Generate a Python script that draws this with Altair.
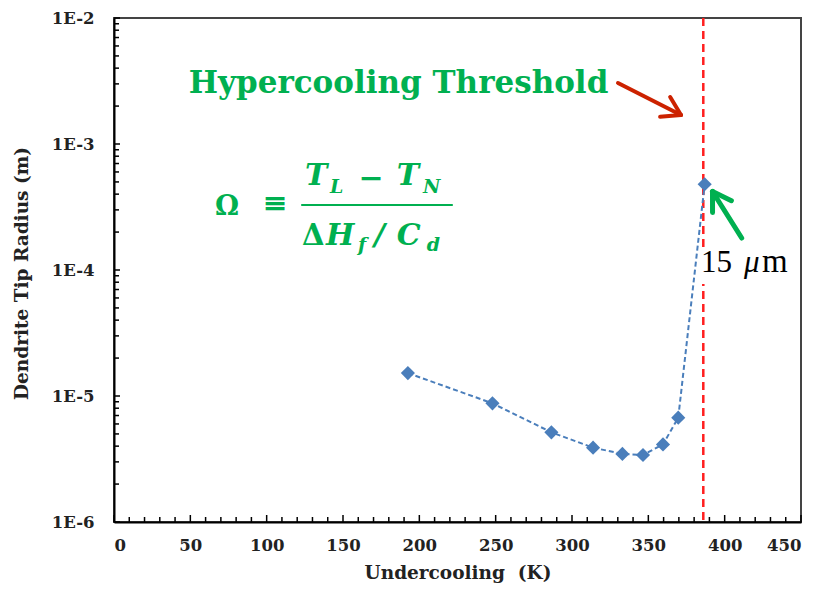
import math
import altair as alt
import pandas as pd

# ---- data ----
undercooling = [192.5, 247.9, 286.5, 313.8, 333.0, 346.5, 359.6, 369.6, 386.9]
tip_radius = [1.52e-5, 8.75e-6, 5.15e-6, 3.89e-6, 3.47e-6, 3.40e-6, 4.13e-6, 6.73e-6, 4.79e-4]
threshold = [386.0]
x_tick_labels = [0, 50, 100, 150, 200, 250, 300, 350, 400, 450]
y_tick_labels = [1e-6, 1e-5, 1e-4, 1e-3, 1e-2]

# minor/major tick positions (axis structure)
x_minor = [v for v in range(0, 451, 10) if v % 50 != 0]
y_minor = [m * 10.0 ** e for e in range(-6, -2) for m in range(2, 10)]

W, H = 687, 504
FONT = "DejaVu Serif"
TFONT = "Liberation Serif"
GREEN = "#00B050"
BLUE = "#4A7EBB"

xscale = alt.Scale(domain=[0, 450], nice=False, zero=False)
yscale = alt.Scale(type="log", domain=[1e-6, 1e-2], nice=False)

x_axis = alt.Axis(values=x_tick_labels, title="Undercooling\u00a0\u00a0(K)", ticks=False,
                  labelPadding=15, grid=False, titleX=W / 2, titleY=56,
                  titleBaseline="alphabetic")
y_axis = alt.Axis(values=y_tick_labels, title="Dendrite Tip Radius (m)", ticks=False,
                  labelPadding=20, grid=False,
                  labelExpr="'1E-' + format(-log(datum.value)/LN10, '.0f')",
                  titleX=-93, titleY=H / 2 + 3, titleBaseline="middle")

df = pd.DataFrame({"x": undercooling, "y": tip_radius})

line = alt.Chart(df).mark_line(color=BLUE, strokeWidth=2, strokeDash=[5, 3]).encode(
    x=alt.X("x:Q", scale=xscale, axis=x_axis),
    y=alt.Y("y:Q", scale=yscale, axis=y_axis),
)
points = alt.Chart(df).mark_point(shape="diamond", filled=True, size=200, color=BLUE, opacity=1).encode(
    x=alt.X("x:Q", scale=xscale, axis=x_axis),
    y=alt.Y("y:Q", scale=yscale, axis=y_axis),
)
thr = alt.Chart(pd.DataFrame({"x": threshold})).mark_rule(
    color="#FF1F1F", strokeWidth=2.5, strokeDash=[8, 5]).encode(
    x=alt.X("x:Q", scale=xscale, axis=x_axis),
)

# inward ticks
xt_minor = alt.Chart(pd.DataFrame({"v": x_minor})).mark_rule(color="black", strokeWidth=1.5).encode(
    x=alt.X("v:Q", scale=xscale, axis=x_axis), y=alt.value(H), y2=alt.value(H - 5))
xt_major = alt.Chart(pd.DataFrame({"v": x_tick_labels})).mark_rule(color="black", strokeWidth=1.5).encode(
    x=alt.X("v:Q", scale=xscale, axis=x_axis), y=alt.value(H), y2=alt.value(H - 7))
yt_minor = alt.Chart(pd.DataFrame({"v": y_minor})).mark_rule(color="black", strokeWidth=1.5).encode(
    y=alt.Y("v:Q", scale=yscale, axis=y_axis), x=alt.value(0), x2=alt.value(5))
yt_major = alt.Chart(pd.DataFrame({"v": y_tick_labels})).mark_rule(color="black", strokeWidth=1.5).encode(
    y=alt.Y("v:Q", scale=yscale, axis=y_axis), x=alt.value(0), x2=alt.value(6))

ONE = pd.DataFrame({"a": [0]})


def txt(text, x, y, size, color="black", weight="normal", style="normal", font=FONT,
        align="left", baseline="alphabetic"):
    return alt.Chart(ONE).mark_text(text=text, fontSize=size, color=color, fontWeight=weight,
                                    fontStyle=style, font=font, align=align,
                                    baseline=baseline).encode(x=alt.value(x), y=alt.value(y))


def seg(x1, y1, x2, y2, color, width):
    return alt.Chart(ONE).mark_rule(color=color, strokeWidth=width, strokeCap="round").encode(
        x=alt.value(x1), y=alt.value(y1), x2=alt.value(x2), y2=alt.value(y2))


def arrow(tx, ty, hx, hy, color, width, head=21, spread=32):
    layers = [seg(tx, ty, hx, hy, color, width)]
    ang = math.atan2(ty - hy, tx - hx)
    for s in (-1, 1):
        a = ang + s * math.radians(spread)
        layers.append(seg(hx, hy, hx + head * math.cos(a), hy + head * math.sin(a), color, width))
    return layers


annotations = []
annotations.append(txt("Hypercooling Threshold", 284.5, 75, 31, GREEN, "bold", align="center"))
annotations += arrow(504, 65, 567, 97, "#CC2200", 4)
annotations += arrow(627.7, 220, 598.5, 173.5, GREEN, 5)

# formula Ω ≡ (T_L − T_N) / (ΔH_f / C_d)
annotations.append(txt("Ω", 101, 197, 27, GREEN, "bold"))
annotations.append(txt("≡", 161, 186, 30, GREEN, "bold", align="center", baseline="middle"))
annotations.append(seg(188, 187, 338, 187, GREEN, 2.2))
annotations.append(txt("T", 191, 167, 30, GREEN, "bold", "italic"))
annotations.append(txt("L", 216, 175, 19, GREEN, "bold", "italic"))
annotations.append(txt("−", 257, 161, 30, GREEN, "bold", align="center", baseline="middle"))
annotations.append(txt("T", 282.7, 167, 30, GREEN, "bold", "italic"))
annotations.append(txt("N", 309, 175, 19, GREEN, "bold", "italic"))
annotations.append(txt("Δ", 188, 227, 29, GREEN, "bold"))
annotations.append(txt("H", 212, 227, 30, GREEN, "bold", "italic"))
annotations.append(txt("f", 244, 233, 19, GREEN, "bold", "italic"))
annotations.append(txt("/", 260, 227, 30, GREEN, "bold", "italic"))
annotations.append(txt("C", 282.7, 227, 30, GREEN, "bold", "italic"))
annotations.append(txt("d", 312.7, 233, 19, GREEN, "bold", "italic"))

# 15 μm label with white background
box = alt.Chart(ONE).mark_rect(color="white").encode(
    x=alt.value(586), x2=alt.value(685), y=alt.value(229), y2=alt.value(266))
annotations.append(box)
annotations.append(txt("15", 587, 254, 31, "black", font=TFONT))
annotations.append(txt("μ", 630, 254, 31, "black", style="italic", font=TFONT))
annotations.append(txt("m", 648, 254, 33, "black", font=TFONT))

chart = alt.layer(
    thr, line, points, xt_minor, xt_major, yt_minor, yt_major, *annotations
).properties(
    width=W, height=H,
    padding={"left": 106, "top": 10, "right": 5, "bottom": 62},
    autosize=alt.AutoSizeParams(type="none"),
).configure_view(
    stroke="#444444", strokeWidth=2
).configure_axis(
    domainColor="black", domainWidth=2,
    labelFont=FONT, labelFontWeight="bold", labelFontSize=16.5, labelColor="#222222",
    titleFont=FONT, titleFontWeight="bold", titleFontSize=18.5, titleColor="#222222",
)

chart.save("out.html", embed_options={"renderer": "svg", "actions": False})
